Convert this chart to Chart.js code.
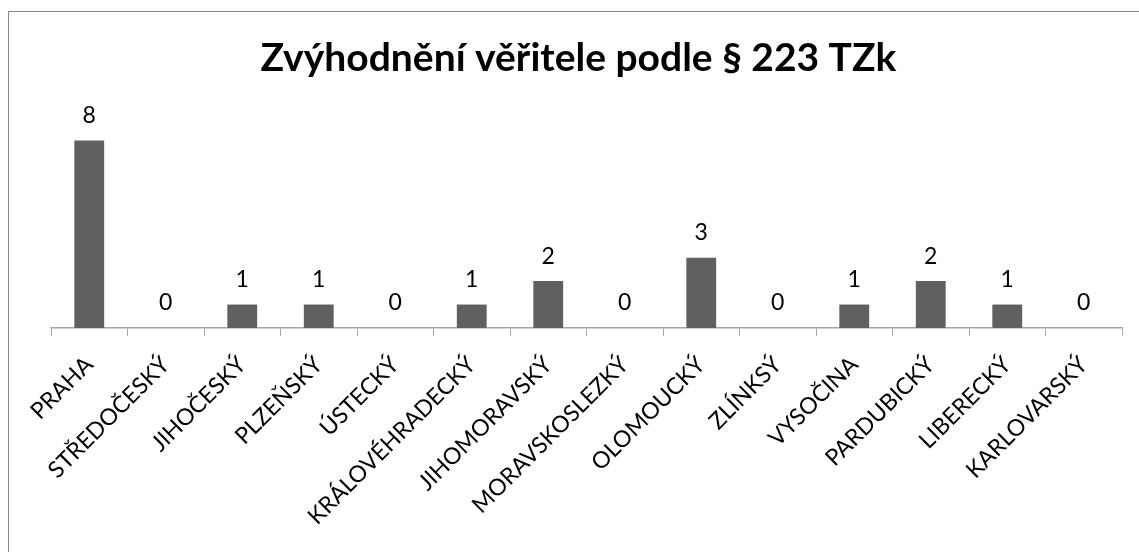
<!DOCTYPE html>
<html><head><meta charset="utf-8">
<script src="https://cdn.jsdelivr.net/npm/chart.js@4.4.0/dist/chart.umd.min.js"></script>
<style>
html,body{margin:0;padding:0;background:#fff;overflow:hidden;}
#wrap{position:relative;width:1139px;height:552px;}
#frame{position:absolute;left:8px;top:11px;width:1200px;height:600px;border:1px solid #898989;box-sizing:border-box;pointer-events:none;}
canvas{position:absolute;left:0;top:0;}
</style></head>
<body>
<div id="wrap"><canvas id="c" width="1139" height="552"></canvas><div id="frame"></div></div>
<script>
const titleText = "Zvýhodnění věřitele podle § 223 TZk";
const categories = ["PRAHA","STŘEDOČESKÝ","JIHOČESKÝ","PLZEŇSKÝ","ÚSTECKÝ","KRÁLOVÉHRADECKÝ","JIHOMORAVSKÝ","MORAVSKOSLEZKÝ","OLOMOUCKÝ","ZLÍNKSÝ","VYSOČINA","PARDUBICKÝ","LIBERECKÝ","KARLOVARSKÝ"];
const values = [8,0,1,1,0,1,2,0,3,0,1,2,1,0];
const yMin = 0, yMax = 9;

const FONT = "Lato, 'Open Sans', sans-serif";

const labelPlugin = {
  id: 'valLabels',
  afterDatasetsDraw(chart) {
    const ctx = chart.ctx;
    const meta = chart.getDatasetMeta(0);
    ctx.save();
    ctx.font = "23px " + FONT;
    ctx.fillStyle = "#000";
    ctx.textAlign = "center";
    ctx.textBaseline = "middle";
    meta.data.forEach((bar, i) => {
      ctx.fillText(String(values[i]), bar.x, bar.y - 25);
    });
    // chart title
    ctx.font = "bold 39px " + FONT;
    ctx.textBaseline = "alphabetic";
    const ca = chart.chartArea;
    ctx.fillText(titleText, (ca.left + ca.right) / 2 - 8, 71);
    ctx.restore();
  }
};

new Chart(document.getElementById('c'), {
  type: 'bar',
  data: {
    labels: categories,
    datasets: [{ data: values, backgroundColor: '#606060', borderWidth: 0,
      barPercentage: 0.39, categoryPercentage: 1.0 }]
  },
  plugins: [labelPlugin],
  options: {
    responsive: false,
    animation: false,
    devicePixelRatio: 1,
    layout: { padding: { left: 51, right: 17, top: 117, bottom: 0 } },
    plugins: {
      legend: { display: false },
      tooltip: { enabled: false },
      title: { display: false }
    },
    scales: {
      y: { display: false, min: yMin, max: yMax },
      x: {
        border: { display: true, color: '#a6a6a6', width: 1.5 },
        grid: { display: true, drawOnChartArea: false, drawTicks: true, tickLength: 8, color: '#a6a6a6', offset: true },
        ticks: { color: '#000', font: { family: FONT, size: 23 }, maxRotation: 45, minRotation: 45, autoSkip: false, padding: 15 },
        afterFit(scale) { scale.height = 224; }
      }
    }
  }
});
</script>
</body></html>
